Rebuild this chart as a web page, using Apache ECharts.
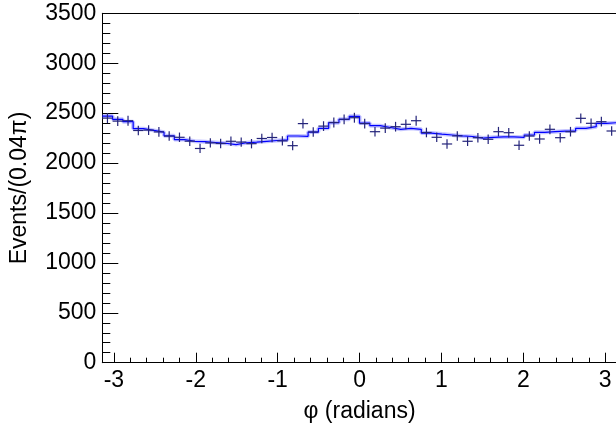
<!DOCTYPE html>
<html>
<head>
<meta charset="utf-8">
<script src="https://cdn.jsdelivr.net/npm/echarts@6/dist/echarts.min.js"></script>
<style>
  html, body { margin: 0; padding: 0; background: #fff; }
  #chart { width: 616px; height: 426px; }
</style>
</head>
<body>
<div id="chart"></div>
<script>
// 50 bins of width 0.04*pi between -pi and pi
const counts = [2450, 2420, 2424, 2326, 2330, 2312, 2270, 2258, 2219, 2146,
  2202, 2196, 2218, 2210, 2194, 2246, 2256, 2222, 2174, 2395,
  2311, 2370, 2406, 2438, 2454, 2395, 2314, 2350, 2364, 2388,
  2424, 2306, 2258, 2191, 2272, 2218, 2254, 2238, 2314, 2304,
  2178, 2271, 2241, 2338, 2254, 2314, 2448, 2398, 2414, 2321];
// fitted curve (step histogram)
const fit = [2470, 2438, 2414, 2344, 2327, 2309, 2273, 2235, 2218, 2214,
  2206, 2198, 2185, 2203, 2210, 2218, 2226, 2232, 2271, 2268,
  2310, 2348, 2404, 2438, 2468, 2400, 2374, 2356, 2338, 2348,
  2338, 2300, 2290, 2281, 2272, 2266, 2250, 2258, 2262, 2262,
  2258, 2281, 2308, 2314, 2320, 2321, 2348, 2364, 2398, 2404];
const xMajorTicks = [-3, -2, -1, 0, 1, 2, 3];
const xMinorTicks = [-2.8, -2.6, -2.4, -2.2, -1.8, -1.6, -1.4, -1.2,
  -0.8, -0.6, -0.4, -0.2, 0.2, 0.4, 0.6, 0.8, 1.2, 1.4, 1.6, 1.8,
  2.2, 2.4, 2.6, 2.8];

const binW = 0.04 * Math.PI;
const xMin = -Math.PI;
const xMax = Math.PI;
const font = 'Liberation Sans, Arial, sans-serif';
const fs = 23;

// points: [centre, value, error]
const points = counts.map((c, i) => [xMin + (i + 0.5) * binW, c, Math.sqrt(c)]);
// step line: lower edges plus the last upper edge
const fitLine = fit.map((v, i) => [xMin + i * binW, v]);
fitLine.push([xMax, fit[fit.length - 1]]);

const chart = echarts.init(document.getElementById('chart'));

const option = {
  animation: false,
  backgroundColor: '#ffffff',
  grid: {
    left: 102.3,
    top: 13.3,
    width: 514.5,
    height: 349.4,
    containLabel: false,
    outerBoundsMode: 'none',
  },
  xAxis: [
    {
      type: 'value',
      min: xMin,
      max: xMax,
      position: 'bottom',
      name: 'φ (radians)',
      nameLocation: 'middle',
      nameGap: 37,
      nameTextStyle: { fontFamily: font, fontSize: fs, color: '#000' },
      splitLine: { show: false },
      axisLine: { show: true, onZero: false, lineStyle: { color: '#000', width: 1 } },
      axisTick: {
        show: true,
        inside: true,
        length: 10,
        customValues: xMajorTicks,
        lineStyle: { color: '#000' },
      },
      axisLabel: {
        fontFamily: font,
        fontSize: fs,
        color: '#000',
        margin: 6,
        customValues: xMajorTicks,
      },
    },
    {
      type: 'value',
      min: xMin,
      max: xMax,
      position: 'bottom',
      splitLine: { show: false },
      axisLine: { show: false },
      axisLabel: { show: false },
      axisTick: {
        show: true,
        inside: true,
        length: 5,
        customValues: xMinorTicks,
        lineStyle: { color: '#000' },
      },
    },
    {
      type: 'value',
      min: xMin,
      max: xMax,
      position: 'top',
      splitLine: { show: false },
      axisLine: { show: true, onZero: false, lineStyle: { color: '#000', width: 1 } },
      axisTick: { show: false },
      axisLabel: { show: false },
    },
  ],
  yAxis: {
    type: 'value',
    min: 0,
    max: 3500,
    interval: 500,
    name: 'Events/(0.04π)',
    nameLocation: 'middle',
    nameGap: 71,
    nameTextStyle: { fontFamily: font, fontSize: fs, color: '#000' },
    splitLine: { show: false },
    axisLine: { show: true, onZero: false, lineStyle: { color: '#000', width: 1 } },
    axisTick: { show: true, inside: true, length: 16, lineStyle: { color: '#000' } },
    minorTick: { show: true, splitNumber: 5, length: 8, lineStyle: { color: '#000' } },
    axisLabel: {
      fontFamily: font,
      fontSize: fs,
      color: '#000',
      margin: 6,
      showMaxLabel: true,
      showMinLabel: true,
      formatter: (v) => String(v),
    },
  },
  series: [
    {
      name: 'band',
      type: 'line',
      step: 'end',
      data: fitLine,
      symbol: 'none',
      lineStyle: { color: 'rgba(90,90,255,0.35)', width: 4 },
      z: 1,
    },
    {
      name: 'fit',
      type: 'line',
      step: 'end',
      data: fitLine,
      symbol: 'none',
      lineStyle: { color: '#0000ff', width: 1.2 },
      z: 2,
    },
    {
      name: 'data',
      type: 'custom',
      data: points,
      z: 3,
      renderItem: (params, api) => {
        const x = api.value(0);
        const y = api.value(1);
        const e = api.value(2);
        const l = api.coord([x - binW / 2, y]);
        const r = api.coord([x + binW / 2, y]);
        const t = api.coord([x, y + e]);
        const b = api.coord([x, y - e]);
        const style = { stroke: '#24247a', lineWidth: 1.2 };
        return {
          type: 'group',
          children: [
            { type: 'line', shape: { x1: l[0], y1: l[1], x2: r[0], y2: r[1] }, style },
            { type: 'line', shape: { x1: t[0], y1: t[1], x2: b[0], y2: b[1] }, style },
          ],
        };
      },
    },
  ],
};

chart.setOption(option);
</script>
</body>
</html>
